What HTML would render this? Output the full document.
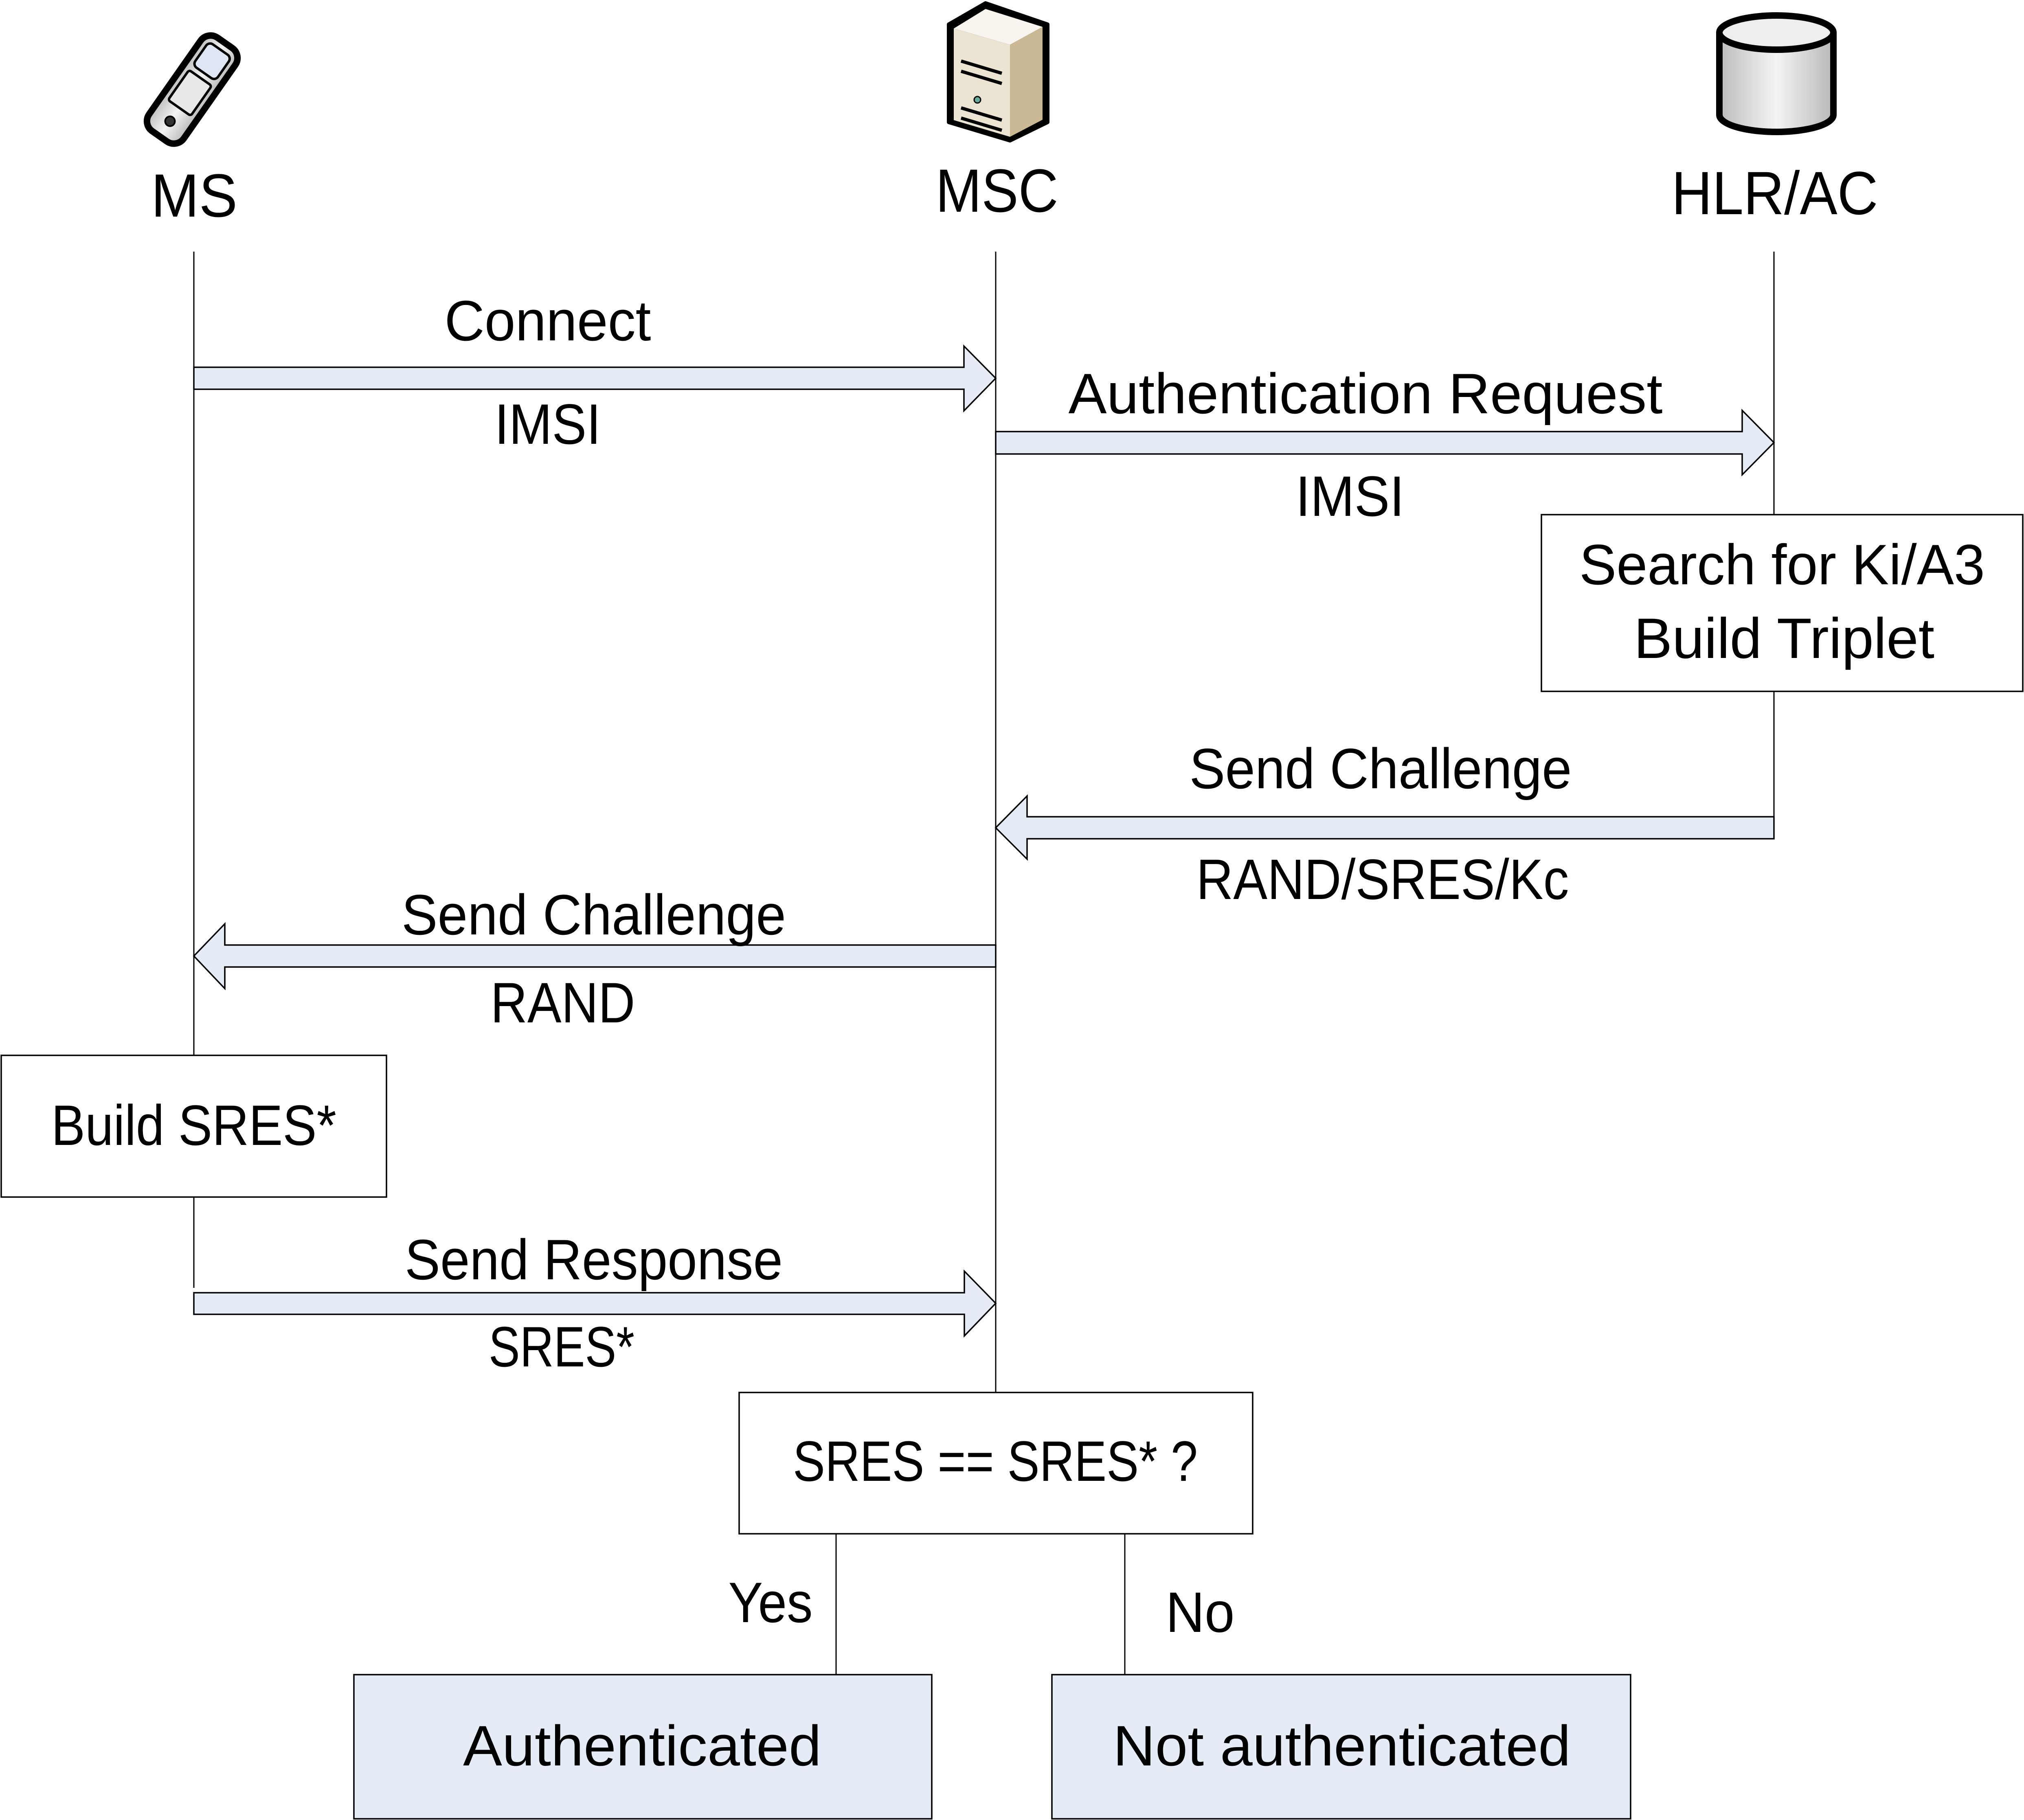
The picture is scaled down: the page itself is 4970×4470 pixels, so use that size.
<!DOCTYPE html>
<html><head><meta charset="utf-8"><style>
html,body{margin:0;padding:0;background:#fff;}
svg{display:block;}
text{font-family:"Liberation Sans",sans-serif;fill:#000;}
</style></head><body>
<svg width="4970" height="4470" viewBox="0 0 4970 4470" xmlns="http://www.w3.org/2000/svg">
<defs>
<linearGradient id="gr" x1="0" x2="1"><stop offset="0" stop-color="#bdbdbd"/><stop offset=".5" stop-color="#f4f4f4"/><stop offset="1" stop-color="#b8b8b8"/></linearGradient>
<linearGradient id="bg" x1="0" x2="1"><stop offset="0" stop-color="#f3eee2"/><stop offset="1" stop-color="#c9b895"/></linearGradient>
</defs>
<!-- icons -->
<g stroke="#000" stroke-linejoin="round">
 <!-- phone -->
 <g transform="rotate(35 472 220)">
  <rect x="420" y="80" width="104" height="280" rx="30" fill="url(#gr)" stroke-width="16"/>
  <rect x="438" y="100" width="68" height="70" rx="12" fill="#dfe6f3" stroke-width="6"/>
  <rect x="438" y="185" width="68" height="90" rx="6" fill="#e8e8e8" stroke-width="6"/>
  <ellipse cx="472" cy="315" rx="12" ry="12" fill="#333" stroke-width="4"/>
 </g>
 <!-- server -->
 <polygon points="2330,60 2420,8 2572,60 2572,300 2480,345 2330,300" fill="#000" stroke-width="10"/>
 <polygon points="2342,70 2420,22 2560,66 2480,110" fill="#f8f5ee" stroke="none"/>
 <polygon points="2480,110 2560,66 2560,294 2480,336" fill="#cbb996" stroke="none"/>
 <polygon points="2342,70 2480,110 2480,336 2342,295" fill="#ece4d2" stroke="none"/>
 <line x1="2360" y1="150" x2="2460" y2="180" stroke-width="8"/>
 <line x1="2360" y1="175" x2="2460" y2="205" stroke-width="8"/>
 <line x1="2360" y1="265" x2="2460" y2="295" stroke-width="8"/>
 <line x1="2360" y1="290" x2="2460" y2="320" stroke-width="8"/>
 <circle cx="2400" cy="245" r="8" fill="#6a9" stroke-width="3"/>
 <!-- database -->
 <path d="M4222,80 L4222,282 A140,42 0 0 0 4502,282 L4502,80" fill="url(#gr)" stroke-width="16"/>
 <ellipse cx="4362" cy="80" rx="140" ry="42" fill="#eeeeee" stroke-width="16"/>
</g>
<!-- headers -->
<text x="477" y="532" font-size="150" text-anchor="middle" textLength="212" lengthAdjust="spacingAndGlyphs">MS</text>
<text x="2448" y="520" font-size="150" text-anchor="middle" textLength="301" lengthAdjust="spacingAndGlyphs">MSC</text>
<text x="4358" y="526" font-size="150" text-anchor="middle" textLength="507" lengthAdjust="spacingAndGlyphs">HLR/AC</text>
<!-- lifelines -->
<g stroke="#000" stroke-width="3">
 <line x1="476" y1="618" x2="476" y2="2592"/>
 <line x1="476" y1="2940" x2="476" y2="3163"/>
 <line x1="2445" y1="618" x2="2445" y2="3420"/>
 <line x1="4356" y1="618" x2="4356" y2="1264"/>
 <line x1="4356" y1="1698" x2="4356" y2="2060"/>
 <line x1="2053" y1="3767" x2="2053" y2="4113"/>
 <line x1="2762" y1="3767" x2="2762" y2="4113"/>
</g>
<!-- arrows -->
<g fill="#e6ecf6" stroke="#000" stroke-width="3.5" stroke-linejoin="miter">
 <polygon points="476,902 2367,902 2367,850 2445,929 2367,1009 2367,956 476,956"/>
 <polygon points="2445,1060 4278,1060 4278,1008 4356,1087 4278,1166 4278,1115 2445,1115"/>
 <polygon points="4356,2006 2522,2006 2522,1955 2445,2033 2522,2110 2522,2060 4356,2060"/>
 <polygon points="2445,2321 552,2321 552,2269 476,2348 552,2428 552,2375 2445,2375"/>
 <polygon points="476,3175 2368,3175 2368,3122 2445,3201 2368,3281 2368,3228 476,3228"/>
</g>
<!-- boxes -->
<g stroke="#000" stroke-width="3.5">
 <rect x="3785" y="1264" width="1182" height="434" fill="#fff"/>
 <rect x="3" y="2592" width="946" height="348" fill="#fff"/>
 <rect x="1815" y="3420" width="1261" height="347" fill="#fff"/>
 <rect x="869" y="4113" width="1419" height="354" fill="#e6ecf6"/>
 <rect x="2583" y="4113" width="1421" height="354" fill="#e6ecf6"/>
</g>
<!-- labels -->
<g font-size="140" text-anchor="middle" lengthAdjust="spacingAndGlyphs">
 <text x="1345" y="836" textLength="507" lengthAdjust="spacingAndGlyphs">Connect</text>
 <text x="1345" y="1090" textLength="261" lengthAdjust="spacingAndGlyphs">IMSI</text>
 <text x="3353" y="1015" textLength="1459" lengthAdjust="spacingAndGlyphs">Authentication Request</text>
 <text x="3315" y="1267" textLength="267" lengthAdjust="spacingAndGlyphs">IMSI</text>
 <text x="4376" y="1435" textLength="996" lengthAdjust="spacingAndGlyphs">Search for Ki/A3</text>
 <text x="4381" y="1616" textLength="738" lengthAdjust="spacingAndGlyphs">Build Triplet</text>
 <text x="3390" y="1936" textLength="939" lengthAdjust="spacingAndGlyphs">Send Challenge</text>
 <text x="3395" y="2208" textLength="915" lengthAdjust="spacingAndGlyphs">RAND/SRES/Kc</text>
 <text x="1458" y="2295" textLength="944" lengthAdjust="spacingAndGlyphs">Send Challenge</text>
 <text x="1382" y="2511" textLength="355" lengthAdjust="spacingAndGlyphs">RAND</text>
 <text x="476" y="2812" textLength="700" lengthAdjust="spacingAndGlyphs">Build SRES*</text>
 <text x="1458" y="3142" textLength="928" lengthAdjust="spacingAndGlyphs">Send Response</text>
 <text x="1379" y="3356" textLength="358" lengthAdjust="spacingAndGlyphs">SRES*</text>
 <text x="2444" y="3637" textLength="994" lengthAdjust="spacingAndGlyphs">SRES == SRES* ?</text>
 <text x="1892" y="3984" textLength="207" lengthAdjust="spacingAndGlyphs">Yes</text>
 <text x="2947" y="4008" textLength="169" lengthAdjust="spacingAndGlyphs">No</text>
 <text x="1577" y="4336" textLength="880" lengthAdjust="spacingAndGlyphs">Authenticated</text>
 <text x="3295" y="4336" textLength="1124" lengthAdjust="spacingAndGlyphs">Not authenticated</text>
</g>
</svg>
</body></html>
